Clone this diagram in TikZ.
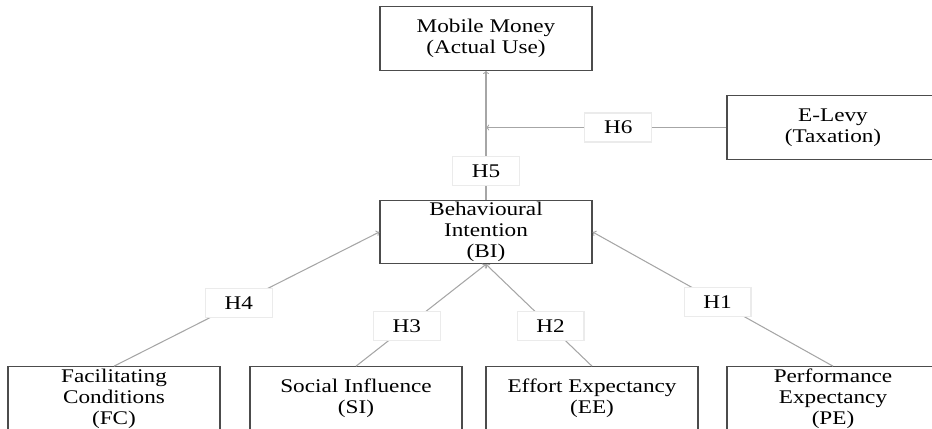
\documentclass[tikz,border=0pt]{standalone}
\usepackage{fontspec}
\setmainfont[FakeStretch=1.2]{Liberation Serif}
\usepackage{tikz}

\tikzset{
    construct/.style={draw=black!70, line width=1.1pt, fill=white, align=center,
        minimum width=6.36cm, minimum height=1.9cm, inner sep=0pt,
        font=\fontsize{16.5}{17.8}\selectfont},
    hyp/.style={draw=black!8, fill=white, minimum width=2cm, minimum height=0.87cm,
        inner sep=0pt, font=\fontsize{16.5}{18}\selectfont},
    link/.style={draw=black!35, line width=0.9pt}
}

\begin{document}
\begin{tikzpicture}[x=0.03cm, y=-0.03cm]
    \useasboundingbox (0,0) rectangle (932,429);
    \clip (0,0) rectangle (932,429);

    \node[construct] (mm) at (486,38.5) {Mobile Money\\(Actual Use)};
    \node[construct] (elevy) at (833,127.5) {E-Levy\\(Taxation)};
    \node[construct] (bi) at (486,232) {Behavioural\\Intention\\(BI)};

    \node[construct] (fc) at (114,398.5) {Facilitating\\Conditions\\(FC)};
    \node[construct] (si) at (356,398.5) {Social Influence\\(SI)};
    \node[construct] (ee) at (592,398.5) {Effort Expectancy\\(EE)};
    \node[construct] (pe) at (833,398.5) {Performance\\Expectancy\\(PE)};

    \draw[link, ->] (bi.north) -- node[hyp, pos=0.22] {H5} (mm.south);
    \draw[link, ->] (elevy.west) -- node[hyp, pos=0.45] {H6} (elevy.west -| bi.north);

    \draw[link, ->] (fc.north) -- node[hyp, pos=0.47] {H4} (bi.west);
    \draw[link, ->] (si.north) -- node[hyp, pos=0.39] {H3} (bi.south);
    \draw[link, ->] (ee.north) -- node[hyp, pos=0.39] {H2} (bi.south);
    \draw[link, ->] (pe.north) -- node[hyp, pos=0.48] {H1} (bi.east);
\end{tikzpicture}
\end{document}
